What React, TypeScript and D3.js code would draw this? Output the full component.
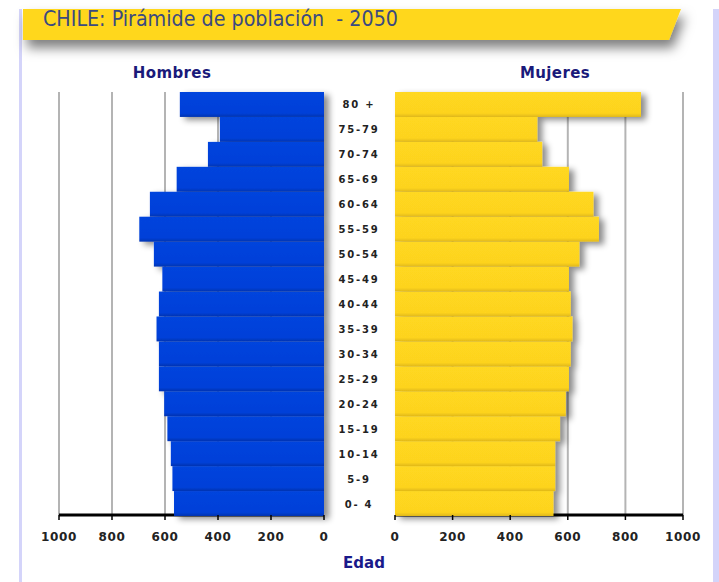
import * as d3 from "d3";

const ageGroups = ["0- 4", "5-9", "10-14", "15-19", "20-24", "25-29", "30-34", "35-39", "40-44", "45-49", "50-54", "55-59", "60-64", "65-69", "70-74", "75-79", "80 +"];
const hombres = [566, 572, 578, 591, 603, 623, 623, 632, 623, 610, 642, 697, 657, 556, 438, 393, 544];
const mujeres = [550, 556, 556, 573, 593, 604, 610, 616, 610, 604, 640, 708, 689, 604, 511, 494, 854];
const ticks = [0, 200, 400, 600, 800, 1000];

const W = 719;
const H = 582;
const TOP = 92;
const BOTTOM = 516;
const AXIS_Y = 515;

function App() {
  const y = d3
    .scaleBand()
    .domain([...ageGroups].reverse())
    .range([TOP, BOTTOM])
    .paddingInner(0);

  // left side grows to the left
  const xLeft = d3.scaleLinear().domain([0, 1000]).range([324, 59]);
  const xRight = d3.scaleLinear().domain([0, 1000]).range([395, 683]);

  const tickFont = "'DejaVu Sans', Verdana, sans-serif";

  return (
    <div style={{ position: "absolute", left: 0, top: 0 }}>
      <svg width={W} height={H} viewBox={`0 0 ${W} ${H}`} style={{ display: "block" }}>
        <defs>
          <filter id="shadow" x="-10%" y="-10%" width="130%" height="130%">
            <feDropShadow dx="5" dy="3" stdDeviation="3" floodColor="#000" floodOpacity="0.45" />
          </filter>
          <filter id="hdrShadow" x="-5%" y="-20%" width="115%" height="200%">
            <feDropShadow dx="4" dy="8" stdDeviation="6" floodColor="#000" floodOpacity="0.5" />
          </filter>
          <linearGradient id="blueBar" x1="0" y1="0" x2="0" y2="1">
            <stop offset="0" stopColor="#0044dd" />
            <stop offset="0.85" stopColor="#0040d8" />
            <stop offset="1" stopColor="#0033b0" />
          </linearGradient>
          <linearGradient id="yellowBar" x1="0" y1="0" x2="0" y2="1">
            <stop offset="0" stopColor="#ffd820" />
            <stop offset="0.85" stopColor="#fdd31f" />
            <stop offset="1" stopColor="#e0b818" />
          </linearGradient>
        </defs>
        <rect x={0} y={0} width={W} height={H} fill="#fff" />

        {/* frame borders */}
        <rect x={19} y={9} width={3} height={H - 9} fill="#d4d4fa" />
        <rect x={713} y={9} width={6} height={H - 9} fill="#d4d4fa" />

        {/* header band */}
        <path d="M23,9 L681,9 L669,40 L23,40 Z" fill="#ffd71f" filter="url(#hdrShadow)" />
        <text
          x={43}
          y={26}
          fontFamily="'Liberation Sans Narrow', 'DejaVu Sans Condensed', sans-serif"
          fontSize={21}
          fill="#3b4a80"
          textLength={355}
          lengthAdjust="spacingAndGlyphs"
          style={{ whiteSpace: "pre" }}
        >
          CHILE: Pirámide de población  - 2050
        </text>

        {/* side titles */}
        <text x={172} y={78} textAnchor="middle" fontFamily={tickFont} fontWeight="bold" fontSize={15} letterSpacing={0.4} fill="#1a1a7a">
          Hombres
        </text>
        <text x={555} y={78} textAnchor="middle" fontFamily={tickFont} fontWeight="bold" fontSize={15} letterSpacing={0.4} fill="#1a1a7a">
          Mujeres
        </text>

        {/* gridlines */}
        {ticks.filter((t) => t > 0).map((t) => (
          <g key={"g" + t}>
            <line x1={xLeft(t)} x2={xLeft(t)} y1={TOP} y2={AXIS_Y} stroke="#b4b4b4" strokeWidth={2} />
            <line x1={xRight(t)} x2={xRight(t)} y1={TOP} y2={AXIS_Y} stroke="#b4b4b4" strokeWidth={2} />
          </g>
        ))}

        {/* axis lines */}
        <line x1={xLeft(1000)} x2={xLeft(0)} y1={AXIS_Y} y2={AXIS_Y} stroke="#000" strokeWidth={3} />
        <line x1={xRight(0)} x2={xRight(1000)} y1={AXIS_Y} y2={AXIS_Y} stroke="#000" strokeWidth={3} />

        {/* bars */}
        <g filter="url(#shadow)">
          {ageGroups.map((g, i) => (
            <rect
              key={"h" + g}
              x={xLeft(hombres[i])}
              y={y(g)}
              width={xLeft(0) - xLeft(hombres[i])}
              height={y.bandwidth()}
              fill="url(#blueBar)"
            />
          ))}
        </g>
        <g filter="url(#shadow)">
          {ageGroups.map((g, i) => (
            <rect
              key={"m" + g}
              x={xRight(0)}
              y={y(g)}
              width={xRight(mujeres[i]) - xRight(0)}
              height={y.bandwidth()}
              fill="url(#yellowBar)"
            />
          ))}
        </g>

        {/* ticks + labels */}
        {ticks.map((t) => (
          <g key={"t" + t} fontFamily={tickFont} fontWeight="bold" fontSize={12} letterSpacing={0.6} fill="#222">
            <line x1={xLeft(t)} x2={xLeft(t)} y1={AXIS_Y} y2={AXIS_Y + 5} stroke="#000" strokeWidth={1.5} />
            <line x1={xRight(t)} x2={xRight(t)} y1={AXIS_Y} y2={AXIS_Y + 5} stroke="#000" strokeWidth={1.5} />
            <text x={xLeft(t)} y={541} textAnchor="middle">{t}</text>
            <text x={xRight(t)} y={541} textAnchor="middle">{t}</text>
          </g>
        ))}

        {/* age labels */}
        {ageGroups.map((g) => (
          <text
            key={"l" + g}
            x={359}
            y={(y(g) ?? 0) + y.bandwidth() / 2 + 4}
            textAnchor="middle"
            fontFamily={tickFont}
            fontWeight="bold"
            fontSize={10}
            letterSpacing={1.8}
            fill="#222"
          >
            {g}
          </text>
        ))}

        <text x={364} y={568} textAnchor="middle" fontFamily={tickFont} fontWeight="bold" fontSize={15} fill="#1a1a8a">
          Edad
        </text>
      </svg>
    </div>
  );
}

export default App;
